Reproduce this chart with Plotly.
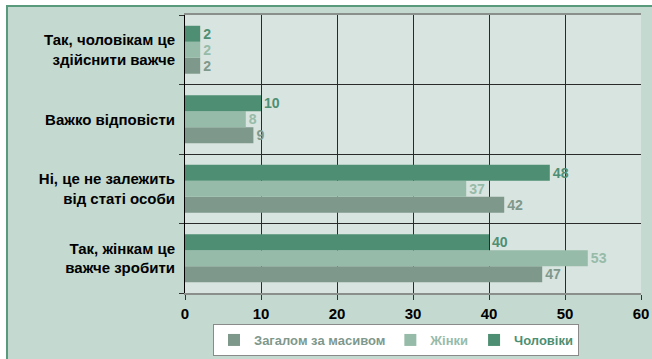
import plotly.graph_objects as go

# Answer options, listed bottom to top
categories = [
    "Так, жінкам це<br>важче зробити",
    "Ні, це не залежить<br>від статі особи",
    "Важко відповісти",
    "Так, чоловікам це<br>здійснити важче",
]
total = [47, 42, 9, 2]
women = [53, 37, 8, 2]
men = [40, 48, 10, 2]

x_ticks = [0, 10, 20, 30, 40, 50, 60]

series = [
    ("Загалом за масивом", total, "#7f988c"),
    ("Жінки", women, "#97bba9"),
    ("Чоловіки", men, "#4e8f73"),
]

FONT = "Liberation Sans, Arial, sans-serif"

fig = go.Figure()
for name, vals, color in series:
    fig.add_trace(go.Bar(
        y=categories,
        x=vals,
        orientation="h",
        name=f"<span style='color:{color}'>{name}</span>",
        marker=dict(color=color, line=dict(width=0)),
        text=[str(v) for v in vals],
        textposition="outside",
        textfont=dict(family=FONT, size=15, color=color, weight="bold"),
        cliponaxis=False,
    ))

# Map pixel coordinates of the figure to paper coordinates
L, R, T, B = 185, 641, 15, 293
def px(x):
    return (x - L) / (R - L)
def py(y):
    return (B - y) / (B - T)

shapes = [
    # white margin above and left of the framed panel
    dict(type="rect", xref="paper", yref="paper", x0=px(-5), x1=px(660), y0=py(5), y1=py(-5),
         fillcolor="white", line=dict(width=0), layer="below"),
    dict(type="rect", xref="paper", yref="paper", x0=px(-5), x1=px(6), y0=py(370), y1=py(-5),
         fillcolor="white", line=dict(width=0), layer="below"),
    # green frame edges
    dict(type="line", xref="paper", yref="paper", x0=px(6), x1=px(660), y0=py(6), y1=py(6),
         line=dict(color="#5a9a7c", width=2), layer="below"),
    dict(type="line", xref="paper", yref="paper", x0=px(7), x1=px(7), y0=py(6), y1=py(370),
         line=dict(color="#5a9a7c", width=2), layer="below"),
]

fig.update_layout(
    width=652,
    height=359,
    margin=dict(l=L, r=652 - R, t=T, b=359 - B, autoexpand=False),
    paper_bgcolor="#c4d9cf",
    plot_bgcolor="#d8e4df",
    barmode="group",
    bargap=0.31,
    bargroupgap=0,
    font=dict(family=FONT, size=15, color="#000000"),
    showlegend=True,
    legend=dict(
        orientation="h",
        x=px(396), xanchor="center",
        y=py(340), yanchor="middle",
        bgcolor="white",
        bordercolor="#8a8a8a",
        borderwidth=1,
        font=dict(family=FONT, size=13, weight="bold"),
        itemwidth=30,
        tracegroupgap=0,
    ),
    shapes=shapes,
    xaxis=dict(
        range=[0, 60],
        tickvals=x_ticks,
        ticktext=[str(t) for t in x_ticks],
        showgrid=True,
        gridcolor="#2a2a2a",
        gridwidth=1,
        zeroline=False,
        showline=True,
        linecolor="#8a8f8c",
        linewidth=2,
        mirror=True,
        ticks="outside",
        ticklen=5,
        tickcolor="#333333",
        ticklabelstandoff=1,
        tickfont=dict(family=FONT, size=15, color="#000000", weight="bold"),
        automargin=False,
        fixedrange=True,
    ),
    yaxis=dict(
        type="category",
        categoryorder="array",
        categoryarray=categories,
        tickson="boundaries",
        showgrid=True,
        gridcolor="#2a2a2a",
        gridwidth=1,
        showline=True,
        linecolor="#000000",
        linewidth=1,
        ticks="outside",
        ticklen=5,
        tickcolor="#333333",
        ticklabelstandoff=6,
        tickfont=dict(family=FONT, size=15, color="#000000", weight="bold"),
        automargin=False,
        fixedrange=True,
    ),
)

fig.write_html("out.html")
